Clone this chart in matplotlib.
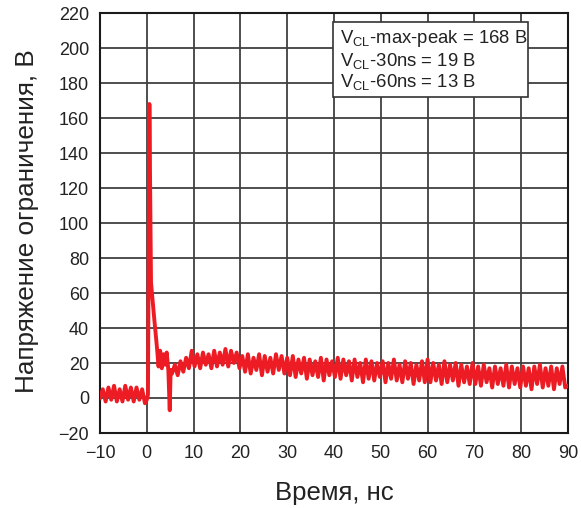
import numpy as np
import matplotlib
matplotlib.use("Agg")
import matplotlib.pyplot as plt
from matplotlib.patches import Rectangle

plt.rcParams['font.family'] = ['Liberation Sans', 'DejaVu Sans']
plt.rcParams['mathtext.fontset'] = 'custom'
plt.rcParams['mathtext.rm'] = 'Liberation Sans'
plt.rcParams['mathtext.it'] = 'Liberation Sans:italic'
plt.rcParams['axes.unicode_minus'] = True

# ---- data ----
pre_t0, pre_step = -10.0, 0.6
pre_v = [0, 5, -2, 6, -1, 7, -2, 5, -2, 7, -1, 6, -2, 6, -1, 5, -3]

spike_t = [0.0, 0.25, 0.55, 0.9, 1.1, 1.6, 2.2,
           2.5, 2.85, 3.2, 3.55, 3.9, 4.25, 4.6, 4.9, 5.1]
spike_v = [-1, 2, 168, 66, 60, 45, 28,
           18, 27, 17, 25, 19, 26, 16, -7, 16]

post_t0, post_step = 5.4, 0.6
post_v = [14, 19, 13, 21, 15, 23, 17, 27,
          18, 25, 17, 26, 19, 25, 17, 27, 18, 26, 19, 28, 18, 27, 20, 26, 17,
          24, 15, 25, 14, 23, 16, 25, 13, 24, 15, 23, 14, 25, 16, 24, 14, 23,
          13, 24, 12, 22, 14, 23, 11, 22, 13, 21, 12, 23, 10, 22, 13, 21,
          12, 23, 11, 22, 13, 21, 10, 22, 12, 20, 9, 22, 11, 21, 10, 20, 12,
          21, 9, 20, 11, 22, 10, 19, 9, 21, 11, 20, 8, 19, 10, 21, 9, 22,
          9, 20, 10, 19, 8, 21, 9, 19, 10, 20, 7, 19, 9, 18, 8, 20,
          8, 18, 7, 19, 9, 17, 6, 18, 8, 17, 7, 19, 6, 18, 8, 17, 6,
          18, 7, 17, 5, 18, 8, 19, 6, 17, 7, 18, 5, 17, 8, 18, 6, 7]

xticks = [-10, 0, 10, 20, 30, 40, 50, 60, 70, 80, 90]
yticks = [-20, 0, 20, 40, 60, 80, 100, 120, 140, 160, 180, 200, 220]

legend_lines = [r'V$_{\mathregular{CL}}$-max-peak = 168 В',
                r'V$_{\mathregular{CL}}$-30ns = 19 В',
                r'V$_{\mathregular{CL}}$-60ns = 13 В']

xlabel = 'Время, нс'
ylabel = 'Напряжение ограничения, В'

# ---- build series ----
pre_t = pre_t0 + pre_step * np.arange(len(pre_v))
post_t = post_t0 + post_step * np.arange(len(post_v))
t = np.concatenate([pre_t, spike_t, post_t])
v = np.concatenate([pre_v, spike_v, post_v])

fig = plt.figure(figsize=(5.81, 5.08), dpi=100)
ax = fig.add_axes([100/581, 1-433/508, 468/581, 420/508])

ax.plot(t, v, color='#ED1C24', lw=2.8, solid_joinstyle='round', zorder=3)

ax.set_xlim(-10, 90)
ax.set_ylim(-20, 220)
ax.set_xticks(xticks)
ax.set_yticks(yticks)
ax.tick_params(axis='y', length=0, labelsize=13, colors='#222222', pad=8)
ax.tick_params(axis='x', length=0, labelsize=13, colors='#222222', pad=9)
ax.grid(True, color='#404040', lw=1.3, zorder=1)
for s in ax.spines.values():
    s.set_color('#1a1a1a')
    s.set_linewidth(1.5)

ax.set_xlabel(xlabel, fontsize=18.5, color='#222222', labelpad=13)
ax.set_ylabel(ylabel, fontsize=18.8, color='#222222')
ax.yaxis.set_label_coords(-0.13, 0.505)

rect = Rectangle((39.8, 172), 81.5-39.8, 214.9-172, facecolor='white',
                 edgecolor='#333333', lw=1.2, zorder=4)
ax.add_patch(rect)
for i, (line, yb) in enumerate(zip(legend_lines, [202.9, 190.0, 178.0])):
    ax.text(41.3, yb, line, fontsize=13.3, color='#222222', va='baseline',
            ha='left', zorder=5)

fig.savefig('out.png', dpi=100)
